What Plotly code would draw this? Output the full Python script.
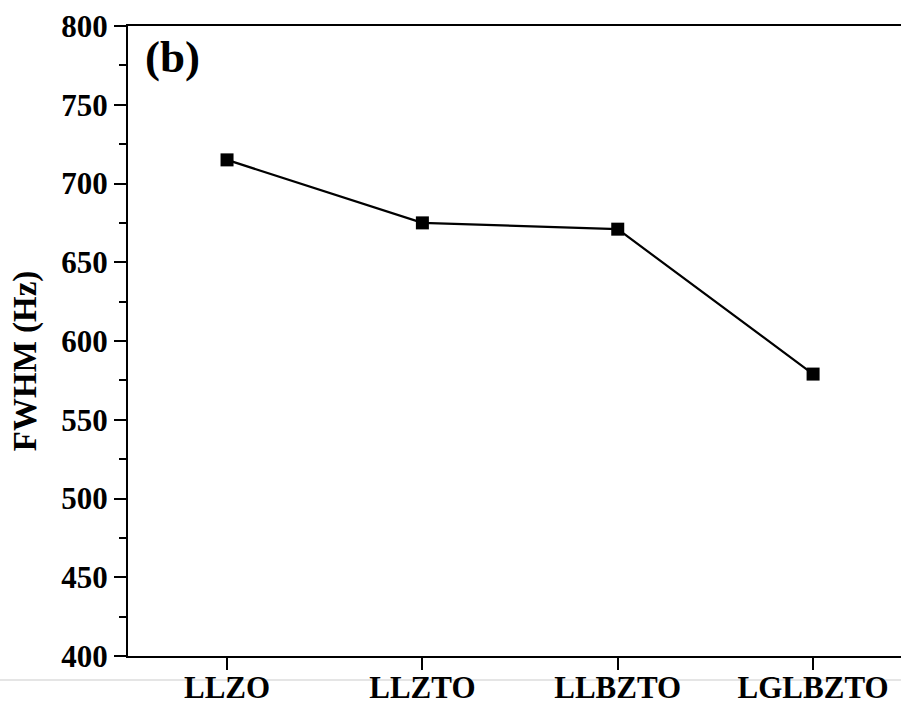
import plotly.graph_objects as go

categories = ["LLZO", "LLZTO", "LLBZTO", "LGLBZTO"]
fwhm = [715, 675, 671, 579]
y_ticks = [400, 450, 500, 550, 600, 650, 700, 750, 800]

W, H = 901, 704
L, R, T, B = 128, 0, 26, 48
font_family = "Liberation Serif, Times New Roman, Times, serif"

fig = go.Figure()
fig.add_trace(go.Scatter(
    x=categories, y=fwhm, mode="lines+markers",
    line=dict(color="black", width=2.2),
    marker=dict(symbol="square", size=13, color="black"),
    showlegend=False,
))

fig.update_layout(
    width=W, height=H,
    margin=dict(l=L, r=R, t=T, b=B, autoexpand=False),
    paper_bgcolor="white", plot_bgcolor="white",
    font=dict(family=font_family, color="black"),
    xaxis=dict(
        type="category", range=[-0.507, 3.45], automargin=False,
        showline=True, linecolor="black", linewidth=2, mirror=True,
        ticks="outside", ticklen=12, tickwidth=2, tickcolor="black",
        ticklabelstandoff=-9,
        tickfont=dict(family=font_family, size=31, weight="bold", color="black"),
        showgrid=False, zeroline=False,
    ),
    yaxis=dict(
        range=[400, 800], tickvals=y_ticks, automargin=False,
        showline=True, linecolor="black", linewidth=2,
        ticks="outside", ticklen=12, tickwidth=2, tickcolor="black",
        minor=dict(dtick=25, ticks="outside", ticklen=7, tickwidth=2, tickcolor="black", showgrid=False),
        tickfont=dict(family=font_family, size=31, weight="bold", color="black"),
        showgrid=False, zeroline=False,
    ),
)

fig.add_annotation(
    text="FWHM (Hz)", xref="paper", yref="paper", x=-0.1332, y=0.468,
    xanchor="center", yanchor="middle", textangle=-90, showarrow=False,
    font=dict(family=font_family, size=33, weight="bold", color="black"),
)

fig.add_annotation(
    text="(b)", xref="paper", yref="paper", x=0.02, y=0.993,
    xanchor="left", yanchor="top", showarrow=False,
    font=dict(family=font_family, size=45, weight="bold", color="black"),
)

fig.add_shape(
    type="line", xref="paper", yref="paper",
    x0=-0.2, x1=1.0, y0=-0.038, y1=-0.038,
    line=dict(color="#dddddd", width=1.5), layer="below",
)

fig.write_html("out.html")
